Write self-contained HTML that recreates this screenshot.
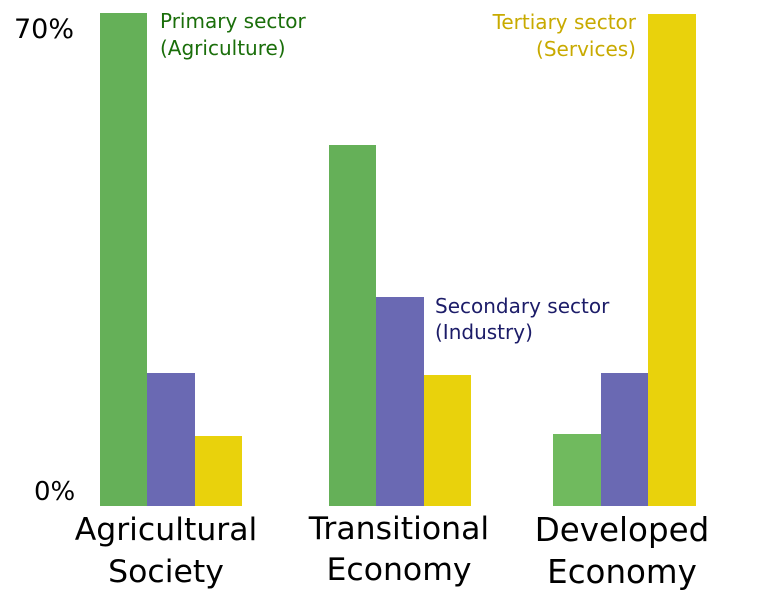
<!DOCTYPE html>
<html><head><style>body{margin:0;background:#fff}svg{display:block}</style></head>
<body>
<svg width="768" height="602" xmlns="http://www.w3.org/2000/svg" font-family="DejaVu Sans, sans-serif">
<rect x="100" y="13" width="47" height="493" fill="#65b058"/>
<rect x="147" y="373" width="48" height="133" fill="#6a69b3"/>
<rect x="195" y="436" width="47" height="70" fill="#e9d20c"/>
<rect x="329" y="145" width="47" height="361" fill="#65b058"/>
<rect x="376" y="297" width="48" height="209" fill="#6a69b3"/>
<rect x="424" y="375" width="47" height="131" fill="#e9d20c"/>
<rect x="553" y="434" width="48" height="72" fill="#70ba5e"/>
<rect x="601" y="373" width="47" height="133" fill="#6a69b3"/>
<rect x="648" y="14" width="48" height="492" fill="#e9d20c"/>
<text x="14" y="38" font-size="27">70%</text>
<text x="34" y="500" font-size="26">0%</text>
<g fill="#1a6e0a" font-size="20"><text x="160" y="28">Primary sector</text><text x="160" y="55">(Agriculture)</text></g>
<g fill="#1c1c68" font-size="20"><text x="435" y="313">Secondary sector</text><text x="435" y="339">(Industry)</text></g>
<g fill="#c8aa00" font-size="20" text-anchor="end"><text x="636" y="29">Tertiary sector</text><text x="636" y="56">(Services)</text></g>
<g font-size="31.5" text-anchor="middle"><text x="166" y="540">Agricultural</text><text x="166" y="582">Society</text>
<text x="399" y="539">Transitional</text><text x="399" y="580">Economy</text>
<text x="622" y="541" font-size="32.5">Developed</text><text x="622" y="583" font-size="32.5">Economy</text></g>
</svg>
</body></html>
